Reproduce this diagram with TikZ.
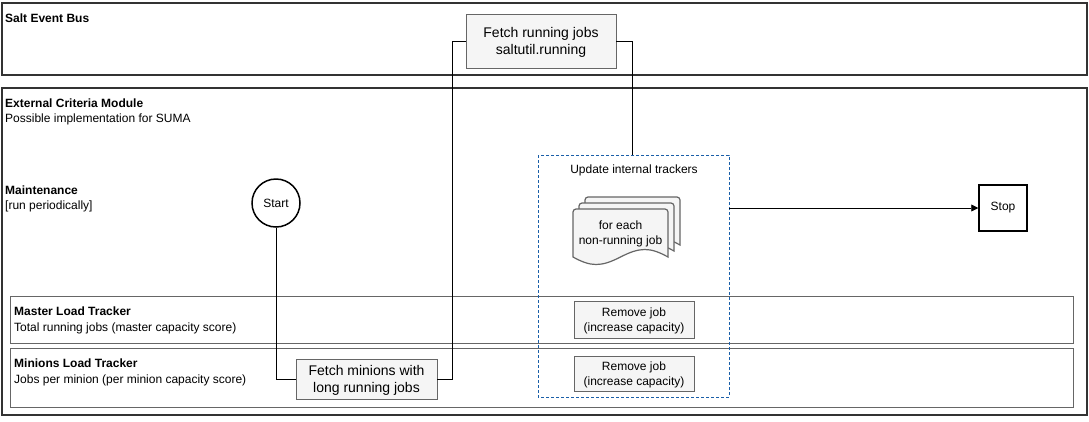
\documentclass[tikz,border=0pt]{standalone}
\usepackage{fontspec}
\setmainfont{Liberation Sans}
\usetikzlibrary{arrows.meta}
\definecolor{boxfill}{HTML}{F5F5F5}
\definecolor{boxline}{HTML}{666666}
\definecolor{frameline}{HTML}{333333}
\definecolor{dashblue}{HTML}{1A5EA8}
\begin{document}
\begin{tikzpicture}[x=1pt,y=-1pt,
  frame/.style={draw=frameline,line width=1.6pt},
  tracker/.style={draw=boxline,line width=0.8pt},
  procbox/.style={draw=boxline,fill=boxfill,line width=0.8pt,align=center,inner sep=0pt,text depth=-2.5pt},
  big/.style={font=\fontsize{14}{17}\selectfont},
  small/.style={font=\fontsize{12}{15}\selectfont},
  lbl/.style={anchor=base west,inner sep=0pt,font=\fontsize{12}{14}\selectfont},
  blbl/.style={lbl,font=\fontsize{12}{14}\selectfont\bfseries},
  conn/.style={draw=black,line width=0.8pt},
  docpage/.style={draw=boxline,fill=boxfill,line width=1.2pt}
]
\useasboundingbox (0,0) rectangle (1089,421);
\fill[white] (0,0) rectangle (1089,421);

% frames
\draw[frame] (2,3) rectangle (1087,75);
\draw[frame] (2,88) rectangle (1087,415);
\draw[tracker] (10,296) rectangle (1073,343);
\draw[tracker] (10,348) rectangle (1073,407);

% labels
\node[blbl] (lbus) at (5,22) {Salt Event Bus};
\node[blbl] (lext) at (5,107.3) {External Criteria Module};
\node[lbl] (lext2) at (5,122) {Possible implementation for SUMA};
\node[blbl] (lmaint) at (5,194.5) {Maintenance};
\node[lbl] (lmaint2) at (5,209.5) {[run periodically]};
\node[blbl] (lmaster) at (14,315.5) {Master Load Tracker};
\node[lbl] (lmaster2) at (14,331.5) {Total running jobs (master capacity score)};
\node[blbl] (lmin) at (14,367.5) {Minions Load Tracker};
\node[lbl] (lmin2) at (14,383.5) {Jobs per minion (per minion capacity score)};

% dashed group
\draw[dashblue,dashed,line width=0.8pt,dash pattern=on 3pt off 2pt] (538,155) rectangle (729,397);
\coordinate (grpTop) at (632,155);
\coordinate (grpRight) at (729,208);
\node[small,inner sep=0pt] (upd) at (634,170) {Update internal trackers};

% multi document
\foreach \dx/\dy in {12/-12,6/-6,0/0}{
  \begin{scope}[shift={(\dx,\dy)}]
  \draw[docpage] (573,257) -- (573,212) arc[start angle=180,end angle=270,radius=3] -- (665,209)
     arc[start angle=270,end angle=360,radius=3] -- (668,257)
     .. controls (650,247) and (640,247) .. (620.5,257)
     .. controls (601,267) and (591,267) .. (573,257) -- cycle;
  \end{scope}
}
\node[small,align=center,inner sep=0pt] (doc) at (620.5,234) {for each\\non-running job};

% nodes
\node[procbox,big,minimum width=150pt,minimum height=54pt] (fetchrun) at (541,41) {Fetch running jobs\\saltutil.running};
\node[draw=black,circle,line width=1.5pt,minimum size=48pt,inner sep=0pt,small] (start) at (276,203) {Start};
\node[draw=black,line width=1.5pt,minimum width=48pt,minimum height=46pt,inner sep=0pt,small] (stop) at (1003,208) {Stop};
\node[procbox,big,minimum width=141pt,minimum height=40pt] (fetchmin) at (366.5,379) {Fetch minions with\\long running jobs};
\node[procbox,small,minimum width=120pt,minimum height=37pt] (rm1) at (634,319.5) {Remove job\\(increase capacity)};
\node[procbox,small,minimum width=120pt,minimum height=35pt] (rm2) at (634,373.5) {Remove job\\(increase capacity)};

% connectors
\draw[conn] (start.south) |- (fetchmin.west);
\draw[conn] (fetchmin.east) -- (452,379) |- (fetchrun.west);
\draw[conn] (fetchrun.east) -| (grpTop);
\draw[conn,-{Triangle[length=7pt,width=7pt]}] (grpRight) -- (stop.west);
\end{tikzpicture}
\end{document}
